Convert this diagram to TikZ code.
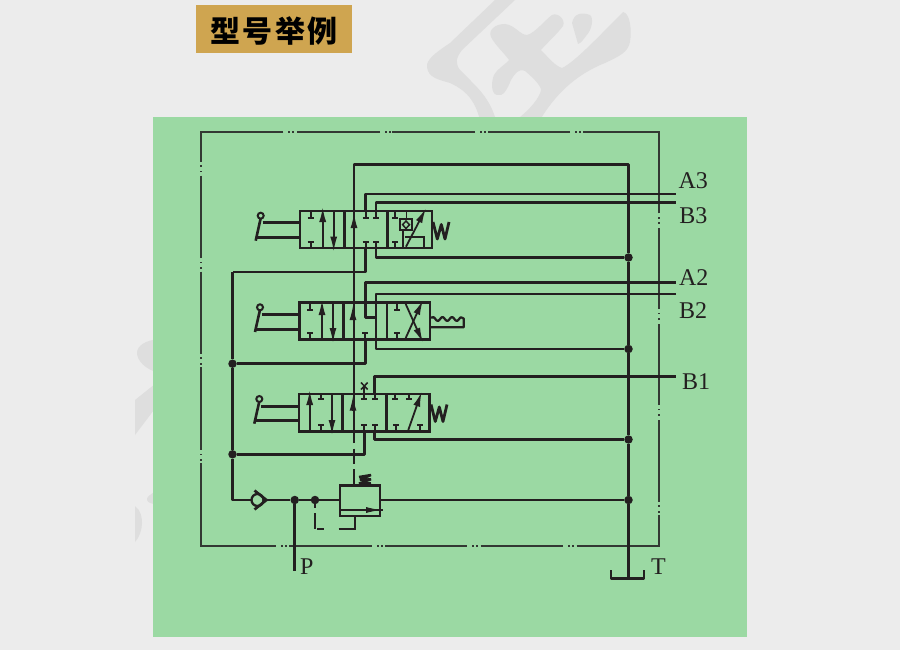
\documentclass[tikz,border=0pt]{standalone}
\usepackage{fontspec}
\setmainfont{Liberation Serif}
\newfontfamily\cjk{Noto Sans CJK SC}
\usetikzlibrary{arrows.meta,calc}
\definecolor{pagebg}{HTML}{ECECEC}
\definecolor{wmark}{HTML}{DEDEDE}
\definecolor{panel}{HTML}{9BD9A3}
\definecolor{ink}{HTML}{231F20}
\definecolor{frameink}{HTML}{333833}
\definecolor{tag}{HTML}{CFA550}
\tikzset{
  pipe/.style={draw=ink,line width=2.6pt,line join=round},
  thinpipe/.style={draw=ink,line width=1.8pt},
  frameline/.style={draw=frameink,line width=1.7pt,line cap=butt},
  sect/.style={draw=ink,line width=2.6pt,rectangle,inner sep=0pt,outer sep=0pt,anchor=north west},
  jdot/.style={circle,fill=ink,inner sep=0pt,outer sep=0pt,minimum size=8.5pt},
  lab/.style={inner sep=0pt,outer sep=0pt,anchor=base west,text=ink,font=\fontsize{24}{24}\selectfont},
  flow/.style={draw=ink,line width=1.8pt,-{Latex[length=15pt,width=7pt]}},
  wm/.style={fill=wmark,draw=none}
}
% T port: x, box edge y, bar y
\newcommand{\tee}[3]{\draw[thinpipe] (#1,#2)--(#1,#3); \draw[thinpipe] (#1-3,#3)--(#1+3,#3);}
% lever: circle x,y  foot x,y  link y1, y2, box name
\newcommand{\lever}[7]{%
  \draw[pipe] (#1,#2+2.5)--(#3,#4);
  \draw[draw=ink,line width=2pt] (#1,#2) circle (3pt);
  \draw[pipe] (#1+2,#5)--(#7.west|-0,#5);
  \draw[pipe] (#3,#6)--(#7.west|-0,#6);}
\newcommand{\dotsH}[3]{% horizontal frame gap: x1 x2 y
  \fill[frameink] ($(#1,#3)+(5,-.9)$) rectangle +(1.8,1.8);
  \fill[frameink] ($(#1,#3)+(9,-.9)$) rectangle +(1.8,1.8);}
\newcommand{\dotsV}[3]{% vertical frame gap: y1 y2 x
  \fill[frameink] ($(#3,#1)+(-.9,3.5)$) rectangle +(1.8,1.8);
  \fill[frameink] ($(#3,#1)+(-.9,9)$) rectangle +(1.8,1.8);}
\begin{document}
\begin{tikzpicture}[x=1pt,y=-1pt]
\useasboundingbox (0,0) rectangle (900,650);
\fill[pagebg] (0,0) rectangle (900,650);
% watermark
\begin{scope}
\clip (135,0) rectangle (900,650);
\fill[wm] (495,0) -- (450,43) .. controls (435,53) and (426,60) .. (427,67)
  .. controls (428,78) and (440,80) .. (450,83) .. controls (470,92) and (476,105) .. (480,120)
  -- (496,120) .. controls (490,100) and (480,90) .. (470,80) -- (460,70)
  .. controls (455,63) and (456,58) .. (462,50) -- (515,0) -- cycle;
\fill[wm] (516,120) .. controls (530,110) and (540,97) .. (541,90) .. controls (541,85) and (530,75) .. (525,71)
  .. controls (518,68) and (515,74) .. (511,80) .. controls (507,90) and (503,97) .. (497,95)
  .. controls (491,94) and (491,82) .. (494,75) .. controls (498,68) and (505,65) .. (509,60)
  .. controls (505,54) and (495,45) .. (491,37) .. controls (488,30) and (495,24) .. (505,24)
  .. controls (515,25) and (520,35) .. (527,35) .. controls (535,33) and (545,20) .. (552,15)
  .. controls (558,12) and (566,20) .. (563,26) .. controls (558,33) and (548,42) .. (541,50)
  .. controls (548,57) and (555,66) .. (562,68) .. controls (575,62) and (600,35) .. (623,12)
  .. controls (630,13) and (632,30) .. (630,42) .. controls (628,52) and (620,56) .. (605,63)
  .. controls (575,75) and (555,95) .. (540,120) -- cycle;
\fill[wm] (572,23) .. controls (574,13) and (582,12) .. (590,15) .. controls (594,18) and (592,30) .. (586,36)
  .. controls (583,40) and (581,43) .. (578,44) -- cycle;
\fill[wm] (160,339) .. controls (145,340) and (137,346) .. (137,353) .. controls (137,360) and (145,370) .. (160,373) -- cycle;
\fill[wm] (160,380) -- (135,400) -- (135,435) -- (160,402) -- cycle;
\fill[wm] (160,488) .. controls (150,495) and (146,497) .. (147,500) .. controls (148,503) and (152,504) .. (160,505) -- cycle;
\fill[wm] (135,506) .. controls (141,510) and (142,518) .. (142,523) .. controls (142,530) and (139,538) .. (135,542) -- cycle;
\end{scope}
% title
\node[fill=tag,draw=none,minimum width=156pt,minimum height=48pt,inner sep=0pt,anchor=north west] (title) at (196,5) {};
\node[inner sep=0pt,text=black] (titletext) at ($(title.center)+(0,1.5)$) {\cjk\bfseries\fontsize{30}{30}\selectfont 型\hspace{2.5pt}号\hspace{2.5pt}举\hspace{2.5pt}例};
% panel
\fill[panel] (153,117) rectangle (747,637);
% dashed outline frame
\draw[frameline] (283.3,131.7)--(200.7,131.7)--(200.7,161.7);
\draw[frameline] (200.7,175.7)--(200.7,258);
\draw[frameline] (200.7,271.7)--(200.7,353.7);
\draw[frameline] (200.7,367.3)--(200.7,450);
\draw[frameline] (200.7,463.3)--(200.7,545.7)--(275.7,545.7);
\draw[frameline] (289.3,545.7)--(371.7,545.7);
\draw[frameline] (385,545.7)--(467.3,545.7);
\draw[frameline] (480.7,545.7)--(563.3,545.7);
\draw[frameline] (576.7,545.7)--(659,545.7)--(659,515);
\draw[frameline] (659,501.7)--(659,420);
\draw[frameline] (659,405)--(659,324);
\draw[frameline] (659,309)--(659,227.7);
\draw[frameline] (659,213.3)--(659,131.7)--(583.3,131.7);
\draw[frameline] (570,131.7)--(488.3,131.7);
\draw[frameline] (475,131.7)--(392.3,131.7);
\draw[frameline] (380,131.7)--(296.7,131.7);
\dotsH{283.3}{296.7}{131.7}\dotsH{380}{392.3}{131.7}\dotsH{475}{488.3}{131.7}\dotsH{570}{583.3}{131.7}
\dotsH{275.7}{289.3}{545.7}\dotsH{371.7}{385}{545.7}\dotsH{467.3}{480.7}{545.7}\dotsH{563.3}{576.7}{545.7}
\dotsV{161.7}{175.7}{200.7}\dotsV{258}{271.7}{200.7}\dotsV{353.7}{367.3}{200.7}\dotsV{450}{463.3}{200.7}
\dotsV{213.3}{227.7}{659}\dotsV{309}{324}{659}\dotsV{405}{420}{659}\dotsV{501.7}{515}{659}

% junctions
\node[jdot] (t3) at (628.5,257.5) {};
\node[jdot] (t2) at (628.5,349) {};
\node[jdot] (t1) at (628.5,439.5) {};
\node[jdot] (t0) at (628.5,500) {};
\node[jdot] (p2) at (232.5,363.7) {};
\node[jdot] (p1) at (232.5,454.3) {};
\node[jdot] (pp) at (294.7,500) {};
\node[jdot] (pq) at (315,500) {};
\coordinate (pc) at (232.5,500);
\coordinate (p3) at (232.5,272);
\coordinate (ttop) at (628.5,164.3);
\coordinate (ctop) at (354,164.3);
\coordinate (tbot) at (628.5,578);
\coordinate (a3e) at (676,194);
\coordinate (b3e) at (676,202.3);
\coordinate (a2e) at (676,282.7);
\coordinate (b2e) at (676,294);
\coordinate (b1e) at (676,376.3);
\coordinate (pe) at (294.7,571);

% valve 3
\node[sect,minimum width=44.3pt,minimum height=37pt] (v3a) at (300,211) {};
\node[sect,minimum width=43pt,minimum height=37pt] (v3b) at (344.3,211) {};
\node[sect,minimum width=44.7pt,minimum height=37pt] (v3c) at (387.3,211) {};
% valve 2
\node[sect,minimum width=44pt,minimum height=37pt] (v2a) at (299.7,302.7) {};
\node[sect,minimum width=43.3pt,minimum height=37pt] (v2b) at (343.7,302.7) {};
\node[sect,minimum width=43pt,minimum height=37pt] (v2c) at (387,302.7) {};
% valve 1
\node[sect,minimum width=43.3pt,minimum height=37.7pt] (v1a) at (299,394) {};
\node[sect,minimum width=44pt,minimum height=37.7pt] (v1b) at (342.3,394) {};
\node[sect,minimum width=43.4pt,minimum height=37.7pt] (v1c) at (386.3,394) {};
% relief valve
\node[sect,minimum width=40pt,minimum height=30.3pt] (rv) at (340,485.7) {};

% main tank and centre line
\draw[pipe] (354,443) |- (ttop) -- (t3) -- (t2) -- (t1) -- (t0) -- (tbot);
\draw[pipe] (354,448.5)--(354,464);
\draw[pipe] (354,469)--(rv.north-|354,0);
% tank
\draw[pipe] (611,570)--(611,578.5)--(644,578.5)--(644,570);
% ports, valve 3
\draw[pipe] (365.7,211)--(365.7,194)--(a3e);
\draw[pipe] (376,211)--(376,202.3)--(b3e);
\draw[pipe] (376,248)--(376,257.5)--(t3);
\draw[pipe] (365.7,248)--(365.7,272)--(p3);
% ports, valve 2
\draw[pipe] (375.5,317.3)--(365.3,317.3)--(365.3,282.7)--(a2e);
\draw[pipe] (b2e)--(376,294)--(376,349)--(t2);
\draw[pipe] (365.2,339.7)--(365.2,363.7)--(p2);
% ports, valve 1
\draw[pipe] (374.7,394)--(374.7,376.3)--(b1e);
\draw[pipe] (374.7,431.7)--(374.7,439.5)--(t1);
\draw[pipe] (364.3,431.7)--(364.3,454.3)--(p1);
% P side
\draw[pipe] (p3)--(p2)--(p1)--(pc)--(251,500);
\draw[pipe] (264,500)--(pp)--(pq)--(rv.west|-pq);
\draw[pipe] (rv.east|-t0)--(t0);
\draw[pipe] (pp)--(pe);
% check valve
\draw[draw=ink,line width=2.3pt] (257.5,500) circle (6pt);
\draw[pipe] (254.5,490.5)--(266.5,500)--(254.5,509.5);
% relief details
\draw[thinpipe] (rv.west|-0,510)--(383,510);
\draw[flow,line width=1pt,-{Latex[length=15pt,width=6pt]}] (360,510)--(381,510);
\draw[draw=ink,line width=2.4pt,line join=bevel] (359,477)--(371,475)--(360,479.8)--(371,479.3)--(359,483.5)--(371,483.3);
% pilot
\draw[draw=ink,line width=1.8pt] (315,503.5)--(315,508);
\draw[draw=ink,line width=1.8pt] (315,513)--(315,529);
\draw[draw=ink,line width=1.8pt] (317.3,529)--(324,529);
\draw[draw=ink,line width=1.8pt] (338.7,529)--(355,529)--(355,516);

% valve 3 inside
\tee{310.7}{211}{217.7}\tee{310.7}{248}{241.7}
\draw[flow] (322.7,248)--(322.7,207);
\draw[flow] (333.7,211)--(333.7,251.7);
\draw[flow] (354,228)--(354,213);
\tee{365.7}{211}{217.7}\tee{376}{211}{217.7}
\tee{365.7}{248}{241.7}\tee{376}{248}{241.7}
\tee{395}{211}{217.7}\tee{395}{248}{241.7}
\draw[flow] (406,246.7)--(426,208.3);
\draw[draw=ink,line width=2pt] (400.2,219.3) rectangle (412,230);
\draw[draw=ink,line width=1.5pt] (406,221)--(409.5,224.7)--(406,228.5)--(402.6,224.7)--cycle;
\draw[thinpipe] (406.5,211)--(406.5,219.3);
\draw[thinpipe] (403.3,230)--(403.3,248);
\draw[thinpipe] (405,236.7)--(424.3,236.7)--(424.3,248);
\draw[pipe,line width=2.8pt] (433,222)--(437.3,239)--(441.3,224.5)--(445,239)--(449,222);
\lever{260.7}{215.7}{255.7}{240.7}{222.7}{237.3}{v3a}

% valve 2 inside
\tee{310}{302.7}{310}\tee{310}{339.7}{333}
\draw[flow] (322,339.7)--(322,300);
\draw[flow] (333,302.7)--(333,343);
\draw[flow] (353,320)--(353,305);
\tee{365.2}{339.7}{333}
\tee{397}{302.7}{310}\tee{397}{339.7}{333}
\draw[flow] (405.7,338)--(423,300);
\draw[flow] (405.7,304)--(423,342.7);
\lever{260}{307.3}{255}{332}{314.3}{329.3}{v2a}
\draw[draw=ink,line width=2.2pt,line join=round] (v2c.east|-0,317.5)--(433,317.5) -- plot[domain=0:28,samples=45] ({433+\x},{319-1.9*cos(\x*360/9.5)}) -- (461.5,317.5)--(463.7,318.5)--(463.7,327.3)--(v2c.east|-0,327.3);

% valve 1 inside
\tee{321}{394}{399.3}\tee{321}{431.7}{425}
\draw[flow] (309.7,431.7)--(309.7,390);
\draw[flow] (332,394)--(332,435);
\draw[flow] (353,411)--(353,395.7);
\tee{364.3}{394}{399.3}\tee{375}{394}{399.3}
\tee{364.3}{431.7}{425}\tee{375}{431.7}{425}
\tee{395}{394}{399.3}\tee{409}{394}{399.3}
\tee{396}{431.7}{425}\tee{420.3}{431.7}{425}
\draw[flow] (408.3,430)--(421.7,391.7);
\draw[thinpipe] (364.3,394)--(364.3,386);
\draw[draw=ink,line width=1.5pt] (361,382.5)--(367.7,389.5) (367.7,382.5)--(361,389.5);
\draw[pipe,line width=2.8pt] (431,404.5)--(435.3,421.5)--(439.3,407)--(443,421.5)--(447,404.5);
\lever{259.3}{399}{254.3}{423.7}{406.3}{420.3}{v1a}

% labels
\node[lab] (la3) at (678.5,188.3) {A3};
\node[lab] (lb3) at (679.3,223.3) {B3};
\node[lab] (la2) at (679,285) {A2};
\node[lab] (lb2) at (679,318) {B2};
\node[lab] (lb1) at (682,389) {B1};
\node[lab] (lp) at (300,574) {P};
\node[lab] (lt) at (651,574.3) {T};
\end{tikzpicture}
\end{document}
